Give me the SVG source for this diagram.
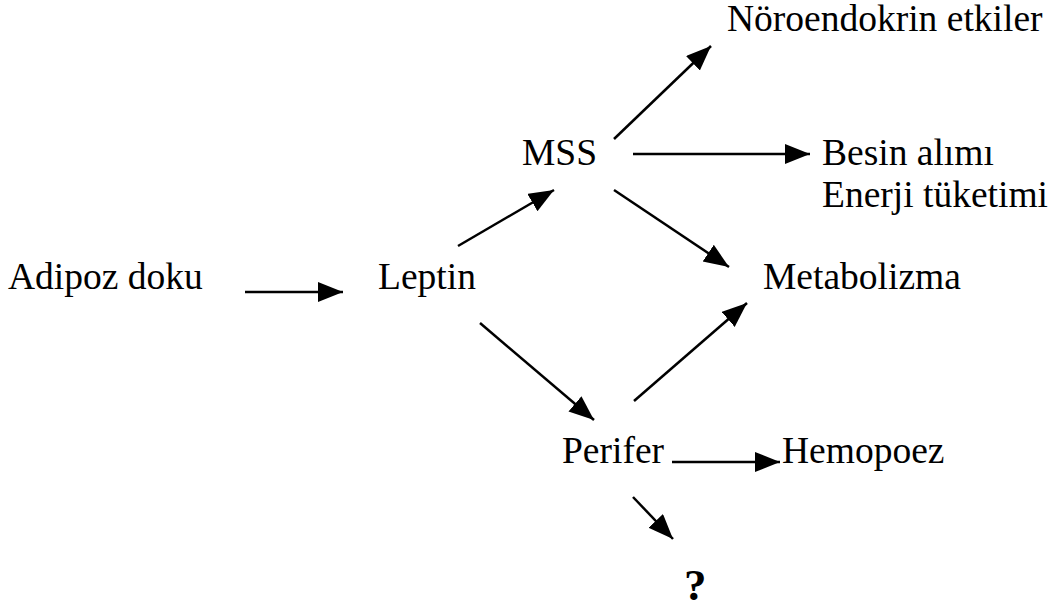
<svg xmlns="http://www.w3.org/2000/svg" width="1052" height="610" viewBox="0 0 1052 610">
  <style>
    .lbl { font-family: "Liberation Serif", "Times New Roman", serif; font-size: 37.5px; fill: #000; }
    .q { font-weight: bold; font-size: 45px; }
    .edge { stroke: #000; stroke-width: 2.5; fill: none; marker-end: url(#head); }
  </style>
  <defs>
    <marker id="head" markerUnits="userSpaceOnUse" markerWidth="28" markerHeight="22" refX="25" refY="10" orient="auto">
      <path d="M0,0 L25,10 L0,20 Z" fill="#000"/>
    </marker>
  </defs>
  <rect width="1052" height="610" fill="#fff"/>

  <g id="connectors">
    <line class="edge" x1="245" y1="292" x2="343" y2="292"/>
    <line class="edge" x1="458" y1="246" x2="554" y2="190"/>
    <line class="edge" x1="614" y1="139" x2="711" y2="46"/>
    <line class="edge" x1="633" y1="154" x2="810" y2="154"/>
    <line class="edge" x1="614" y1="190" x2="729" y2="267"/>
    <line class="edge" x1="480" y1="323" x2="594" y2="420"/>
    <line class="edge" x1="634" y1="401" x2="747" y2="303"/>
    <line class="edge" x1="672" y1="462" x2="780" y2="462"/>
    <line class="edge" x1="633" y1="497" x2="673" y2="539"/>
  </g>

  <g id="noroendokrin"><text class="lbl" x="727" y="31">Nöroendokrin etkiler</text></g>
  <g id="mss"><text class="lbl" x="522" y="165">MSS</text></g>
  <g id="besin"><text class="lbl" x="822" y="165">Besin alımı</text><text class="lbl" x="822" y="207">Enerji tüketimi</text></g>
  <g id="adipoz"><text class="lbl" x="8" y="289">Adipoz doku</text></g>
  <g id="leptin"><text class="lbl" x="378" y="289">Leptin</text></g>
  <g id="metabolizma"><text class="lbl" x="763" y="289">Metabolizma</text></g>
  <g id="perifer"><text class="lbl" x="562" y="463">Perifer</text></g>
  <g id="hemopoez"><text class="lbl" x="782" y="463">Hemopoez</text></g>
  <g id="unknown"><text class="lbl q" x="684" y="600">?</text></g>
</svg>
